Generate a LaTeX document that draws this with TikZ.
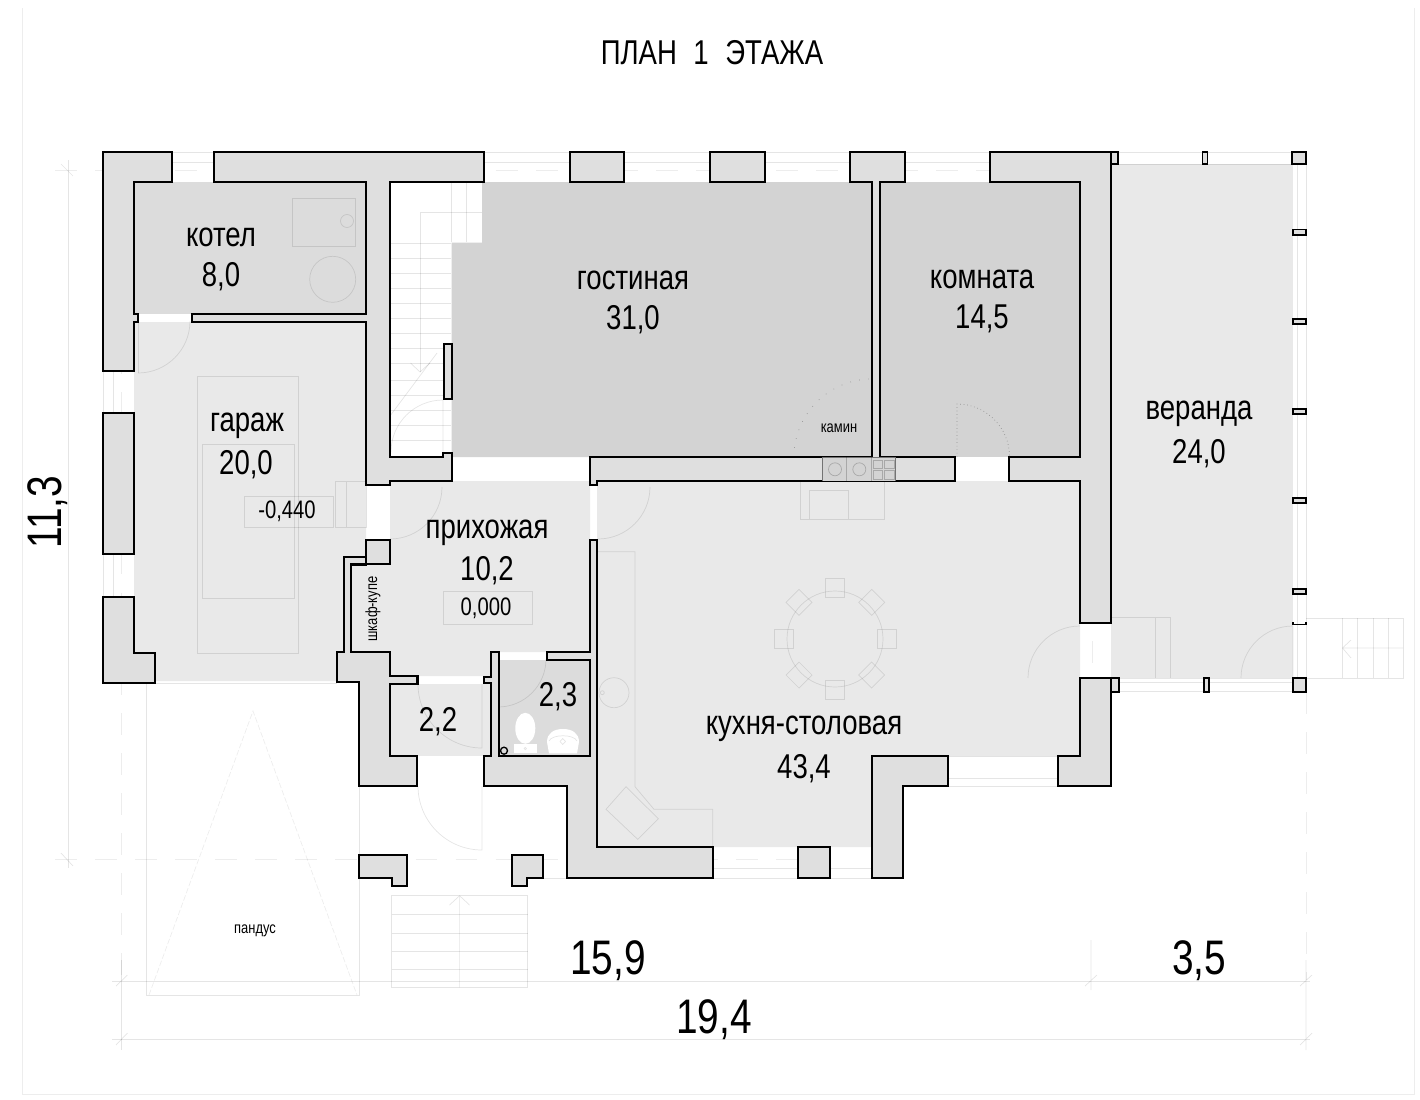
\documentclass[tikz,border=0pt]{standalone}
\usepackage{fontspec}
\setmainfont[FakeStretch=0.8]{Liberation Sans}
\tikzset{
  wall/.style={draw=black,line width=3.1pt,fill=wallgray,line join=miter},
  roomlight/.style={fill=lightroom},
  roommid/.style={fill=midroom},
  roomdark/.style={fill=darkroom},
  pale/.style={draw=black,draw opacity=.1,line width=1pt},
  paler/.style={draw=black,draw opacity=.07,line width=1pt},
  axisline/.style={draw=black,draw opacity=.07,line width=1.2pt,dash pattern=on 31pt off 26pt},
  dots/.style={draw=black,draw opacity=.3,line width=1pt,dash pattern=on 1pt off 4pt},
  fitting/.style={fill=white,draw=none},
  lbl/.style={inner sep=0pt,align=center,font=\fontsize{49}{56}\selectfont},
  biglbl/.style={inner sep=0pt,font=\fontsize{69}{76}\selectfont},
  midlbl/.style={inner sep=0pt,font=\fontsize{36}{40}\selectfont},
  smalllbl/.style={inner sep=0pt,font=\fontsize{23}{26}\selectfont},
}
\definecolor{wallgray}{HTML}{DFDFDF}
\definecolor{lightroom}{HTML}{E9E9E9}
\definecolor{midroom}{HTML}{DCDCDC}
\definecolor{darkroom}{HTML}{D3D3D3}
\begin{document}
\begin{tikzpicture}[x=0.05cm,y=-0.05cm]
\useasboundingbox (0,0) rectangle (1420,1100);
\fill[white] (0,0) rectangle (1420,1100);
% --- room fills
\path[roommid] (134,182) rectangle (366,314);
\path[roomlight] (134,322)--(366,322)--(366,557)--(344,557)--(344,652)--(337,652)--(337,681)--(134,681)--cycle;
\path[roomdark] (482,182)--(872,182)--(872,457)--(451.5,457)--(451.5,242.5)--(482,242.5)--cycle;
\path[roomdark] (880,182) rectangle (1080,457);
\path[roomlight] (1111,164) rectangle (1293,678);
\path[roomlight] (390,481)--(590,481)--(590,652)--(491,652)--(491,676)--(390,676)--cycle;
\path[roomlight] (351,564) rectangle (390,652);
\path[roomlight] (390,684) rectangle (491,756);
\path[roommid] (498,660) rectangle (590,756);
\path[roomlight] (597,481)--(1080,481)--(1080,756)--(872,756)--(872,847)--(597,847)--cycle;
% --- frame
\draw[paler] (22.5,8)--(22.5,1094)--(1414.7,1094)--(1414.7,8);
% --- dimension lines and axes
\draw[pale] (68,160)--(68,868);
\draw[pale] (61,853)--(73,866) (61,164)--(73,176);
\draw[pale] (112,981)--(1310,981);
\draw[pale] (112,1039)--(1310,1039);
\draw[pale] (121.5,960)--(121.5,1050);
\draw[pale] (116,986)--(127.5,975) (116,1045)--(127.5,1033);
\draw[pale] (1091,940)--(1091,990) (1085,986)--(1097,975);
\draw[pale] (1306,960)--(1306,1050) (1300,986)--(1312,975) (1300,1045)--(1312,1033);
\draw[axisline] (55,170)--(1112,170);
\draw[axisline] (55,859.5)--(830,859.5);
\draw[axisline] (121.5,152)--(121.5,975);
\draw[axisline] (1092,160)--(1092,790);
\draw[axisline] (1306,692)--(1306,980);
% --- window lines
\foreach \a/\b in {172/214,484/570,624/710,765/850,905/990}{
  \draw[pale] (\a,152)--(\b,152) (\a,162)--(\b,162);}
\foreach \a/\b in {714/798,830/872}{
  \draw[pale] (\a,878)--(\b,878) (\a,868)--(\b,868);}
\draw[pale] (948,756)--(1058,756) (948,778)--(1058,778) (948,786)--(1058,786);
\draw[pale] (103,371)--(103,413) (113,371)--(113,413) (103,554)--(103,597) (113,554)--(113,597);
\draw[pale] (155,683)--(337,683);
% --- veranda lines
\draw[pale] (1118,152)--(1292,152) (1118,164)--(1292,164);
\draw[pale] (1118,678)--(1292,678) (1118,691.5)--(1292,691.5) (1118,682)--(1292,682);
\draw[pale] (1297,164)--(1297,678) (1306,164)--(1306,678);
\draw[pale] (1111,617.5)--(1170.5,617.5)--(1170.5,678) (1155.5,617.5)--(1155.5,678);
\draw[pale] (1306,618)--(1403,618)--(1403,678)--(1306,678);
\foreach \x in {1342.5,1357.5,1373,1388}{\draw[pale] (\x,618)--(\x,678);}
\draw[pale] (1342.5,648)--(1403,648) (1351,640)--(1342.5,648)--(1351,658);
% --- ramp and porch stairs
\draw[pale] (146.5,683)--(146.5,995.5)--(359,995.5)--(359,786);
\draw[paler,dash pattern=on 8pt off 3pt] (149,995)--(253,711)--(357,995);
\draw[pale] (391.7,895.7) rectangle (527.5,987.3);
\foreach \y in {914.3,933.3,951.7,969.3}{\draw[pale] (391.7,\y)--(527.5,\y);}
\draw[pale] (459.6,895.7)--(459.6,987.3) (449.5,905)--(459.6,895.7)--(469.5,905);
\draw[pale] (527,878)--(568,878);
% --- hall stairs
\draw[pale] (451.5,182)--(451.5,242) (466.5,182)--(466.5,242);
\draw[pale] (420,212)--(482,212) (420,212)--(420,372);
\foreach \y in {243,258,273,288,303,318,333,348,363,380,395,410,425,440}{\draw[pale] (390,\y)--(451,\y);}
\draw[pale] (410.5,363)--(420,372)--(430,363);
\draw[pale] (390,416)--(437,353);
% --- door swings (angles are measured with y pointing down)
\draw[pale] (138,373) arc[start angle=90,end angle=0,radius=52];
\draw[pale] (138,322)--(138,373);
\draw[pale] (391,452) arc[start angle=180,end angle=270,radius=52]--(443,452);
\draw[pale] (390,539) arc[start angle=90,end angle=0,radius=52];
\draw[pale] (598,539) arc[start angle=90,end angle=0,radius=52];
\draw[pale] (498,707) arc[start angle=90,end angle=0,radius=48];
\draw[pale] (418,684) arc[start angle=180,end angle=90,radius=64]--(482,684);
\draw[pale] (418,786) arc[start angle=180,end angle=90,radius=64]--(482,786);
\draw[pale] (1028,678) arc[start angle=180,end angle=270,radius=52];
\draw[pale] (1241,678) arc[start angle=180,end angle=270,radius=52]--(1293,678);
\draw[dots] (957,457)--(957,404) arc[start angle=270,end angle=360,radius=52.5];
\draw[dots,dash pattern=on 1pt off 12pt] (794,457) arc[start angle=180,end angle=270,radius=78];
% --- boiler room and garage fittings
\draw[pale] (292.3,198.7) rectangle (355.3,246.7);
\draw[pale] (347,221) circle[radius=6.5];
\draw[pale] (332.7,279.3) circle[radius=23];
\draw[pale] (197.3,376) rectangle (298.3,653);
\draw[pale] (202.3,444) rectangle (294,598);
\draw[pale] (244,496) rectangle (333,527);
\draw[pale] (335.5,481.5) rectangle (366,527) (346,481.5)--(346,527);
\draw[pale] (443.3,591.7) rectangle (532.7,624.3);
% --- kitchen fittings
\draw[pale] (597,551.7)--(635,551.7)--(635,786.7)--(654,809.3)--(712.7,809.3)--(712.7,847);
\draw[pale] (606,809.3)--(626,786.7)--(658.3,818.7)--(637.7,839.3)--cycle;
\draw[pale] (614,692.7) circle[radius=15];
\draw[pale] (602.3,692.7) circle[radius=2];
\draw[pale] (835,639) circle[radius=48];
\foreach \cx/\cy in {835/587.5,835/690,783.5/639,886.5/639}{
  \draw[pale] (\cx-9.5,\cy-9.5) rectangle (\cx+9.5,\cy+9.5);}
\foreach \cx/\cy in {799/602.3,871.7/602.3,799/675,871.7/675}{
  \draw[pale] (\cx-13,\cy)--(\cx,\cy-13)--(\cx+13,\cy)--(\cx,\cy+13)--cycle;}
\draw[pale] (800,481)--(800,519)--(884,519)--(884,481);
\draw[pale] (809.3,519)--(809.3,490)--(848.3,490)--(848.3,519);
% --- walls
\draw[wall] (103,152)--(172,152)--(172,182)--(134,182)--(134,314)--(138,314)--(138,322)--(134,322)--(134,371)--(103,371)--cycle;
\draw[wall] (214,152)--(484,152)--(484,182)--(390,182)--(390,457)--(443,457)--(443,453)--(452,453)--(452,481)--(390,481)--(390,485)--(366,485)--(366,322)--(192,322)--(192,314)--(366,314)--(366,182)--(214,182)--cycle;
\draw[wall] (443.7,344) rectangle (451.7,398.7);
\draw[wall] (103,413) rectangle (134,554);
\draw[wall] (103,597)--(134,597)--(134,653)--(155,653)--(155,683)--(103,683)--cycle;
\draw[wall] (344,557)--(366,557)--(366,564.5)--(351.3,564.5)--(351.3,652.3)--(390.3,652.3)--(390.3,676)--(417.5,676)--(417.5,684)--(390.3,684)--(390.3,756)--(417.3,756)--(417.3,786)--(359.3,786)--(359.3,682.3)--(337.3,682.3)--(337.3,652.3)--(344,652.3)--cycle;
\draw[wall] (365.7,540) rectangle (390.3,564.3);
\draw[wall] (491.3,652.3)--(498.7,652.3)--(498.7,756)--(590.3,756)--(590.3,660)--(547.3,660)--(547.3,652.3)--(590.3,652.3)--(590.3,540)--(597.3,540)--(597.3,847.3)--(713.3,847.3)--(713.3,878)--(567.3,878)--(567.3,786)--(484,786)--(484,756)--(491.3,756)--(491.3,683.3)--(484,683.3)--(484,676.7)--(491.3,676.7)--cycle;
\draw[wall] (850,152)--(905,152)--(905,182)--(880,182)--(880,457)--(955,457)--(955,481)--(597,481)--(597,485)--(590,485)--(590,457)--(872,457)--(872,182)--(850,182)--cycle;
\draw[wall] (990,152)--(1111,152)--(1111,623)--(1080,623)--(1080,481)--(1009,481)--(1009,457)--(1080,457)--(1080,182)--(990,182)--cycle;
\draw[wall] (1080,678)--(1111,678)--(1111,786)--(1058,786)--(1058,756)--(1080,756)--cycle;
\draw[wall] (570,152) rectangle (624,182);
\draw[wall] (710,152) rectangle (765,182);
\draw[wall] (872,756)--(948,756)--(948,786)--(903,786)--(903,878)--(872,878)--cycle;
\draw[wall] (798.3,847.3) rectangle (829.7,878);
\draw[wall] (359.3,855)--(407.3,855)--(407.3,886)--(391.7,886)--(391.7,878)--(359.3,878)--cycle;
\draw[wall] (512,855)--(543,855)--(543,878)--(527,878)--(527,886)--(512,886)--cycle;
% --- veranda posts
\draw[wall,line width=2.4pt] (1111,152) rectangle (1118,164);
\draw[wall,line width=2.4pt] (1202.5,152) rectangle (1207.5,164);
\draw[wall,line width=2.4pt] (1292,152) rectangle (1306,164);
\foreach \y in {229.5,319,409,498,589}{\draw[wall,line width=2.4pt] (1293.3,\y) rectangle (1306,\y+5.2);}
\draw[draw=black,line width=2.4pt] (1293.3,622)--(1293.3,624.5)--(1306,624.5)--(1306,622);
\draw[wall,line width=2.4pt] (1111,678.3) rectangle (1119.3,691.7);
\draw[wall,line width=2.4pt] (1204,678.3) rectangle (1208.7,691.7);
\draw[wall,line width=2.4pt] (1293.3,678.3) rectangle (1306,691.7);
% --- fireplace
\fill[darkroom] (822,457) rectangle (895.7,481);
\draw[draw=black,draw opacity=.45,line width=1pt] (822,457) rectangle (895.7,481);
\draw[draw=black,draw opacity=.2,line width=1pt] (846.7,457)--(846.7,481) (871.7,457)--(871.7,481);
\draw[draw=black,draw opacity=.2,line width=1pt] (835,469.3) circle[radius=6.5] (859.3,469.3) circle[radius=6.5];
\draw[draw=black,draw opacity=.2,line width=1pt] (873,460) rectangle (882.5,468.5) (884.5,460) rectangle (894,468.5) (873,470.5) rectangle (882.5,479) (884.5,470.5) rectangle (894,479);
% --- bathroom fittings
\path[fitting] (525.3,728.3) ellipse[x radius=10,y radius=15.5];
\path[fitting] (514,744) rectangle (536.7,753.3);
\path[fitting] (549,753.3)--(547,742) .. controls (547,733) and (554,729) .. (563,729) .. controls (572,729) and (579,733) .. (579,742)--(577,753.3)--cycle;
\draw[pale] (549,741) .. controls (552,734) and (574,734) .. (577,741);
\draw[pale] (562.7,738.5)--(565.5,741.5)--(562.7,744.5)--(560,741.5)--cycle;
\draw[pale] (525.3,748.5) circle[radius=1.2];
\draw[draw=black,line width=1.9pt] (504,750.7) circle[radius=3.5];
% --- labels
\node[lbl] (title) at (712,53) {ПЛАН\hspace{.48em}1\hspace{.48em}ЭТАЖА};
\node[lbl] (kotel) at (221,237) {котел};
\node[lbl] (kotelA) at (221,276.5) {8,0};
\node[lbl] (garage) at (247,426) {гараж};
\node[lbl] (garageA) at (246,464.5) {20,0};
\node[lbl] (living) at (633,280) {гостиная};
\node[lbl] (livingA) at (633,319.5) {31,0};
\node[lbl] (room) at (982,279) {комната};
\node[lbl] (roomA) at (982,318.5) {14,5};
\node[lbl] (veranda) at (1199,414) {веранда};
\node[lbl] (verandaA) at (1199,453.5) {24,0};
\node[lbl] (hall) at (487,533) {прихожая};
\node[lbl] (hallA) at (487,570.5) {10,2};
\node[lbl] (kitchen) at (804,729) {кухня-столовая};
\node[lbl] (kitchenA) at (804,768.5) {43,4};
\node[lbl] (vest) at (438,721.5) {2,2};
\node[lbl] (bath) at (558,696.5) {2,3};
\node[midlbl] (levelA) at (287,511) {-0,440};
\node[midlbl] (levelB) at (486,608) {0,000};
\node[smalllbl] (kamin) at (839,428) {камин};
\node[smalllbl] (ramp) at (255,930.5) {пандус};
\node[smalllbl,rotate=90] (wardrobe) at (373,609) {шкаф-купе};
\node[biglbl] (dimA) at (608,960.5) {15,9};
\node[biglbl] (dimB) at (1199,960.5) {3,5};
\node[biglbl] (dimC) at (714,1020) {19,4};
\node[biglbl,rotate=90] (dimD) at (47.5,512) {11,3};
\end{tikzpicture}
\end{document}
